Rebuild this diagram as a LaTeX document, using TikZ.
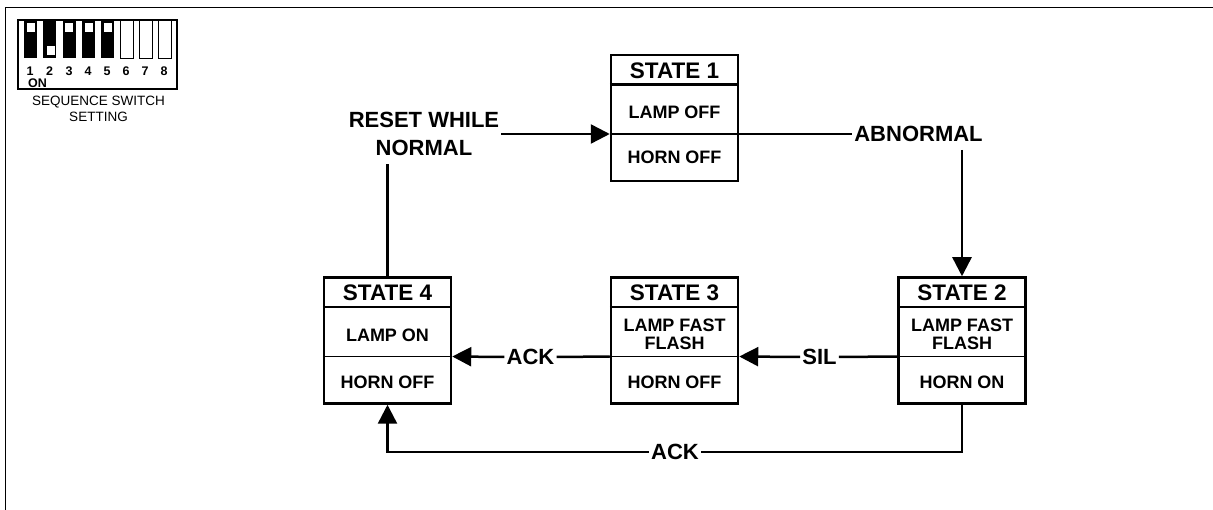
\documentclass[tikz,border=0pt]{standalone}
\usepackage{fontspec}
\setmainfont{Liberation Sans}

\tikzset{
	statebox/.style={draw, line width=2.5pt, minimum width=127pt, minimum height=126pt, inner sep=0pt},
	titletext/.style={font=\bfseries\fontsize{22.5}{24}\selectfont, inner sep=0pt},
	celltext/.style={font=\bfseries\fontsize{18}{17.5}\selectfont, align=center, inner sep=0pt},
	flowtext/.style={font=\bfseries\fontsize{22}{27.5}\selectfont, align=center, inner sep=2pt, fill=white},
	flow/.style={line width=2.5pt},
	flowarrow/.style={line width=2.5pt, -{Triangle[length=19pt, width=19pt]}},
	leverup/.style={fill=black, minimum width=13pt, minimum height=38pt, inner sep=0pt},
	leveroff/.style={draw, line width=0.8pt, minimum width=13pt, minimum height=38pt, inner sep=0pt},
	knob/.style={fill=white, minimum width=8pt, minimum height=9pt, inner sep=0pt},
	digit/.style={font=\bfseries\fontsize{12.5}{13}\selectfont, inner sep=0pt},
}
\usetikzlibrary{arrows.meta}

\begin{document}
\begin{tikzpicture}[x=1pt, y=-1pt]
	\useasboundingbox (0,0) rectangle (1213,510);

	% frame
	\draw [line width=1pt] (5.5,510) -- (5.5,7.5) -- (1213,7.5);

	% sequence switch
	\node (switch) [draw, line width=1.5pt, minimum width=159pt, minimum height=69pt, inner sep=0pt] at (97.5,54.5) {};
	\node (lever1) [leverup] at (30.5,39) {};
	\node (lever2) [leverup] at (49.5,39) {};
	\node (lever3) [leverup] at (69,39) {};
	\node (lever4) [leverup] at (88.5,39) {};
	\node (lever5) [leverup] at (107.5,39) {};
	\node (lever6) [leveroff] at (126.5,39) {};
	\node (lever7) [leveroff] at (146,39) {};
	\node (lever8) [leveroff] at (165,39) {};
	\node (knob1) [knob] at (31,27.5) {};
	\node (knob2) [knob] at (50.5,50.5) {};
	\node (knob3) [knob] at (69,27.5) {};
	\node (knob4) [knob] at (88.5,27.5) {};
	\node (knob5) [knob] at (107.5,27.5) {};
	\node (digit1) [digit] at (30,71) {1};
	\node (digit2) [digit] at (49.5,71) {2};
	\node (digit3) [digit] at (69,71) {3};
	\node (digit4) [digit] at (88,71) {4};
	\node (digit5) [digit] at (107,71) {5};
	\node (digit6) [digit] at (126,71) {6};
	\node (digit7) [digit] at (145,71) {7};
	\node (digit8) [digit] at (164,71) {8};
	\node (on) [digit] at (37.5,83) {ON};
	\node (caption) [font=\fontsize{13.5}{16}\selectfont, align=center, inner sep=0pt] at (98.5,109) {SEQUENCE SWITCH\\SETTING};

	% states
	\node (state1) [statebox] at (674.5,118) {};
	\node (state2) [statebox] at (962,340.5) {};
	\node (state3) [statebox] at (674.5,340.5) {};
	\node (state4) [statebox] at (387.5,340.5) {};

	\draw [line width=2.5pt] ([yshift=-31pt]state1.north west) -- ([yshift=-31pt]state1.north east);
	\draw [line width=2.5pt] ([yshift=-31pt]state2.north west) -- ([yshift=-31pt]state2.north east);
	\draw [line width=2.5pt] ([yshift=-31pt]state3.north west) -- ([yshift=-31pt]state3.north east);
	\draw [line width=2.5pt] ([yshift=-31pt]state4.north west) -- ([yshift=-31pt]state4.north east);
	\draw [line width=1.5pt] ([yshift=-16pt]state1.west) -- ([yshift=-16pt]state1.east);
	\draw [line width=1.5pt] ([yshift=-16pt]state2.west) -- ([yshift=-16pt]state2.east);
	\draw [line width=1.5pt] ([yshift=-16pt]state3.west) -- ([yshift=-16pt]state3.east);
	\draw [line width=1.5pt] ([yshift=-16pt]state4.west) -- ([yshift=-16pt]state4.east);

	\node (title1) [titletext] at (674.5,71) {STATE 1};
	\node (lamp1) [celltext] at (674.5,112.5) {LAMP OFF};
	\node (horn1) [celltext] at (674.5,157) {HORN OFF};
	\node (title2) [titletext] at (962,293) {STATE 2};
	\node (lamp2) [celltext] at (962,334.5) {LAMP FAST\\FLASH};
	\node (horn2) [celltext] at (962,382.5) {HORN ON};
	\node (title3) [titletext] at (674.5,293) {STATE 3};
	\node (lamp3) [celltext] at (674.5,334.5) {LAMP FAST\\FLASH};
	\node (horn3) [celltext] at (674.5,382.5) {HORN OFF};
	\node (title4) [titletext] at (387.5,293) {STATE 4};
	\node (lamp4) [celltext] at (387.5,335) {LAMP ON};
	\node (horn4) [celltext] at (387.5,382.5) {HORN OFF};

	% transitions
	\coordinate (in1) at ([yshift=-16pt]state1.west);
	\coordinate (out1) at ([yshift=-16pt]state1.east);
	\coordinate (out2) at ([yshift=-16pt]state2.west);
	\coordinate (in3) at ([yshift=-16pt]state3.east);
	\coordinate (out3) at ([yshift=-16pt]state3.west);
	\coordinate (in4) at ([yshift=-16pt]state4.east);

	\node (reset) [flowtext] at (424,134) {RESET WHILE\\NORMAL};
	\node (abnormal) [flowtext] at (918.5,134) {ABNORMAL};
	\node (sil) [flowtext] at (819.5,357) {SIL};
	\node (ack1) [flowtext] at (530.5,357) {ACK};
	\node (ack2) [flowtext] at (675,452) {ACK};
	\coordinate (corner2) at (962,452);
	\coordinate (corner4) at (387.5,452);
	\coordinate (resetdrop) at (387.5,164);
	\coordinate (abnormaldrop) at (962,150);

	\draw [flow] (state4.north) -- (resetdrop);
	\draw [flowarrow] (reset.east |- in1) -- (in1);
	\draw [flow] (out1) -- (abnormal.west |- out1);
	\draw [flowarrow] (abnormaldrop) -- (state2.north);
	\draw [flow] (out2) -- (sil.east);
	\draw [flowarrow] (sil.west) -- (in3);
	\draw [flow] (out3) -- (ack1.east);
	\draw [flowarrow] (ack1.west) -- (in4);
	\draw [flow] (state2.south) -- (corner2) -- (ack2.east);
	\draw [flowarrow] (ack2.west) -- (corner4) -- (state4.south);
\end{tikzpicture}
\end{document}
